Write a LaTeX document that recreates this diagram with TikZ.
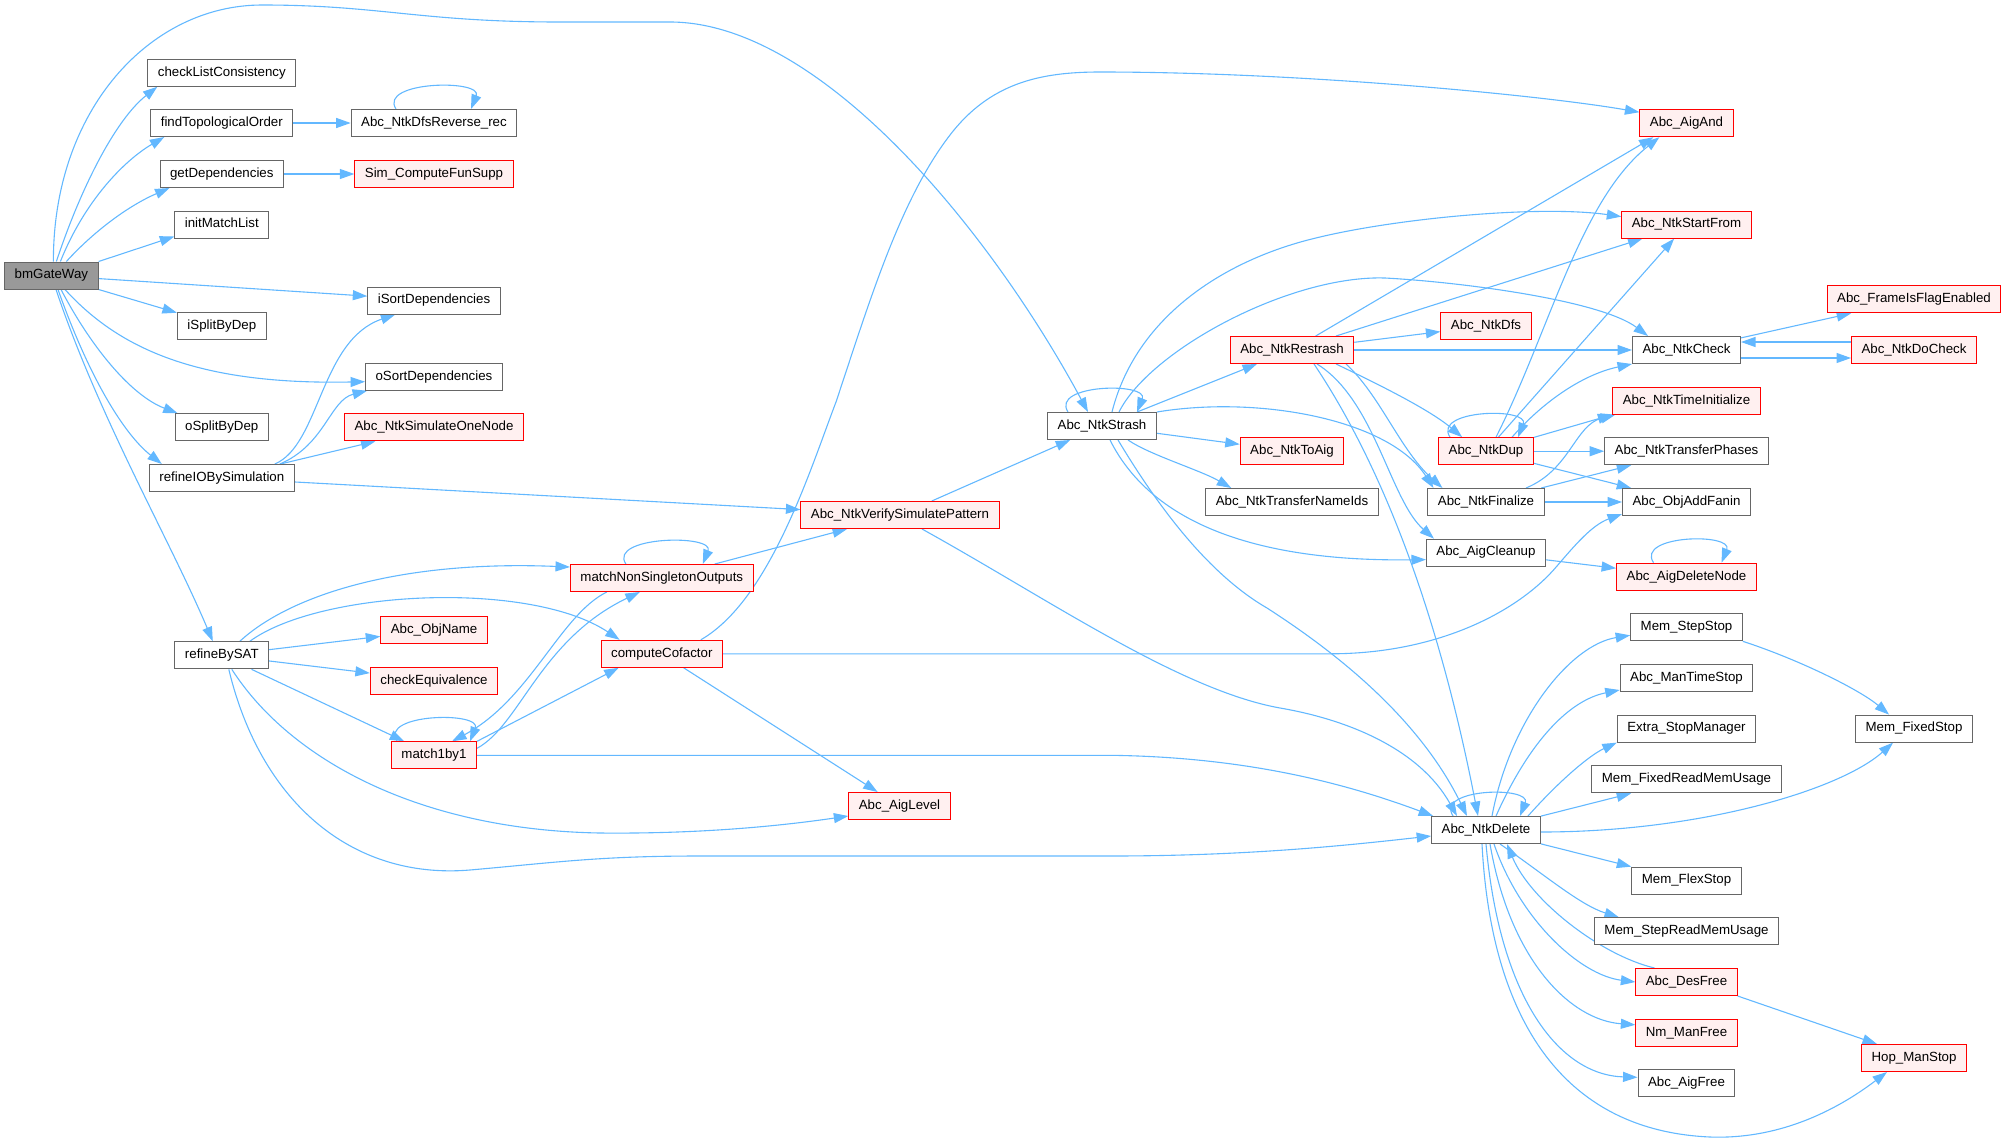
\documentclass[tikz,border=0pt]{standalone}
\usepackage{fontspec}
\setmainfont{Liberation Sans}
\usetikzlibrary{arrows.meta, backgrounds}

\definecolor{edgeblue}{HTML}{63B8FF}
\definecolor{boxgray}{HTML}{666666}
\definecolor{rootfill}{HTML}{999999}
\definecolor{redfill}{HTML}{FFF0F0}

\begin{document}
\begin{tikzpicture}[
    x=1pt, y=-1pt,
    % Cajas de funciones: borde gris, fondo blanco
    fnode/.style={
        rectangle,
        draw=boxgray,
        fill=white,
        line width=1pt,
        minimum height=27pt,
        inner xsep=10pt,
        inner ysep=0pt,
        text height=9.6pt,
        text depth=2.9pt,
        font=\fontsize{13.3}{16}\selectfont
    },
    rnode/.style={fnode, draw=red, fill=redfill},
    rootnode/.style={fnode, fill=rootfill},
    arr/.style={-{Triangle[length=14.5pt,width=10pt]}, draw=edgeblue, line width=1.1pt}
]
    \useasboundingbox (0,0) rectangle (2005,1141);

    % --- ENTRADA ---
    \node[rootnode] (root) at (51.4,275.5) {bmGateWay};

    % --- PRIMER NIVEL ---
    \node[fnode] (chk) at (221.8,72.7) {checkListConsistency};
    \node[fnode] (topo) at (221.8,123) {findTopologicalOrder};
    \node[fnode] (deps) at (221.8,174) {getDependencies};
    \node[fnode] (init) at (221.8,224.5) {initMatchList};
    \node[fnode] (isplit) at (221.8,326) {iSplitByDep};
    \node[fnode] (osplit) at (221.8,427.3) {oSplitByDep};
    \node[fnode] (refsim) at (221.8,478) {refineIOBySimulation};
    \node[fnode] (refsat) at (221.8,655.3) {refineBySAT};

    % --- SEGUNDO NIVEL ---
    \node[fnode] (dfsrev) at (434,123) {Abc\_NtkDfsReverse\_rec};
    \node[rnode] (funsupp) at (434,174) {Sim\_ComputeFunSupp};
    \node[fnode] (isort) at (434,300.5) {iSortDependencies};
    \node[fnode] (osort) at (434,376.7) {oSortDependencies};
    \node[rnode] (simnode) at (434,427.3) {Abc\_NtkSimulateOneNode};
    \node[rnode] (objname) at (434,630) {Abc\_ObjName};
    \node[rnode] (equiv) at (434,680.7) {checkEquivalence};
    \node[rnode] (m1b1) at (434,755.3) {match1by1};

    \node[rnode] (mnso) at (661.8,578) {matchNonSingletonOutputs};
    \node[rnode] (cofac) at (661.8,653.8) {computeCofactor};
    \node[rnode] (verify) at (900,515) {Abc\_NtkVerifySimulatePattern};
    \node[rnode] (aiglevel) at (899.5,806) {Abc\_AigLevel};

    % --- STRASH Y RESTRASH ---
    \node[fnode] (strash) at (1102,426) {Abc\_NtkStrash};
    \node[rnode] (restrash) at (1292,350) {Abc\_NtkRestrash};
    \node[rnode] (toaig) at (1292,451.2) {Abc\_NtkToAig};
    \node[fnode] (nameids) at (1292,502) {Abc\_NtkTransferNameIds};

    \node[rnode] (dfs) at (1486,326) {Abc\_NtkDfs};
    \node[rnode] (dup) at (1486,451.2) {Abc\_NtkDup};
    \node[fnode] (final) at (1486,502) {Abc\_NtkFinalize};
    \node[fnode] (cleanup) at (1486,552.6) {Abc\_AigCleanup};
    \node[fnode] (ntkdel) at (1486,830) {Abc\_NtkDelete};

    % --- HOJAS ---
    \node[rnode] (aigand) at (1686.5,123.2) {Abc\_AigAnd};
    \node[rnode] (startfrom) at (1686.5,224.6) {Abc\_NtkStartFrom};
    \node[fnode] (check) at (1686.5,350) {Abc\_NtkCheck};
    \node[rnode] (timeinit) at (1686.5,400.7) {Abc\_NtkTimeInitialize};
    \node[fnode] (phases) at (1686.5,451.2) {Abc\_NtkTransferPhases};
    \node[fnode] (fanin) at (1686.5,502) {Abc\_ObjAddFanin};
    \node[rnode] (delnode) at (1686.5,576.7) {Abc\_AigDeleteNode};
    \node[fnode] (stepstop) at (1686.5,627.3) {Mem\_StepStop};
    \node[fnode] (timestop) at (1686.5,678) {Abc\_ManTimeStop};
    \node[fnode] (extra) at (1686.5,728.6) {Extra\_StopManager};
    \node[fnode] (fixedusage) at (1686.5,779.3) {Mem\_FixedReadMemUsage};
    \node[fnode] (flexstop) at (1686.5,880.5) {Mem\_FlexStop};
    \node[fnode] (stepusage) at (1686.5,931.3) {Mem\_StepReadMemUsage};
    \node[rnode] (desfree) at (1686.5,982) {Abc\_DesFree};
    \node[rnode] (nmfree) at (1686.5,1032.8) {Nm\_ManFree};
    \node[fnode] (aigfree) at (1686.5,1083.3) {Abc\_AigFree};

    \node[rnode] (framefl) at (1914,299.3) {Abc\_FrameIsFlagEnabled};
    \node[rnode] (docheck) at (1914,350) {Abc\_NtkDoCheck};
    \node[fnode] (fixedstop) at (1914,728.6) {Mem\_FixedStop};
    \node[rnode] (hopstop) at (1914,1058) {Hop\_ManStop};

    % --- CONEXIONES (debajo de las cajas) ---
    \begin{scope}[on background layer]
    % bmGateWay
    \draw[arr] ([xshift=2pt]root.north) .. controls (53,110) and (150,5) .. (262,5) .. controls (380,5) and (420,22) .. (560,22) -- (670,22) .. controls (820,22) and (990,230) .. ([xshift=-14pt]strash.north);
    \draw[arr] ([xshift=5pt]root.north) .. controls (80,190) and (115,120) .. ([xshift=10pt]chk.south west);
    \draw[arr] ([xshift=9pt]root.north) .. controls (85,200) and (125,160) .. ([xshift=14pt]topo.south west);
    \draw[arr] ([xshift=15pt]root.north) .. controls (95,230) and (130,205) .. ([xshift=10pt]deps.south west);
    \draw[arr] (root.north east) -- ([yshift=2pt]init.south west);
    \draw[arr] (root) -- (isort);
    \draw[arr] (root) -- (isplit);
    \draw[arr] ([xshift=13.6pt]root.south) .. controls (120,350) and (200,385) .. ([yshift=-5pt]osort.west);
    \draw[arr] ([xshift=9.6pt]root.south) .. controls (90,345) and (130,395) .. ([xshift=3pt]osplit.north west);
    \draw[arr] ([xshift=6.6pt]root.south) .. controls (90,380) and (125,435) .. ([xshift=13pt]refsim.north west);
    \draw[arr] ([xshift=4.6pt]root.south) .. controls (100,420) and (170,540) .. ([xshift=-9pt]refsat.north);

    \draw[arr] (topo) -- (dfsrev);
    \draw[arr] ([xshift=-38pt]dfsrev.north) .. controls +(-18,-28) and +(12,-30) .. ([xshift=37pt]dfsrev.north);
    \draw[arr] (deps) -- (funsupp);

    % refineIOBySimulation
    \draw[arr] ([xshift=53pt]refsim.north) .. controls (320,445) and (320,340) .. ([xshift=28pt]isort.south west);
    \draw[arr] ([xshift=58pt]refsim.north) .. controls (325,445) and (330,400) .. ([xshift=2pt]osort.south west);
    \draw[arr] (refsim) -- (simnode);
    \draw[arr] (refsim) -- (verify);

    % refineBySAT
    \draw[arr] ([xshift=18pt]refsat.north) .. controls (290,595) and (400,560) .. ([yshift=-3pt]mnso.north west);
    \draw[arr] ([xshift=28pt]refsat.north) .. controls (320,590) and (530,580) .. ([xshift=19pt]cofac.north west);
    \draw[arr] (refsat) -- (objname);
    \draw[arr] (refsat) -- (equiv);
    \draw[arr] (refsat) -- (m1b1);
    \draw[arr] ([xshift=10pt]refsat.south) .. controls (290,760) and (420,830) .. (600,833) .. controls (700,834) and (780,826) .. ([yshift=-10pt]aiglevel.west);
    \draw[arr] ([xshift=7pt]refsat.south) .. controls (260,800) and (350,880) .. (470,870) .. controls (560,862) and (600,856) .. (700,856) -- (1110,856) .. controls (1250,856) and (1350,845) .. ([yshift=-6pt]ntkdel.west);

    % match1by1 y matchNonSingletonOutputs
    \draw[arr] ([xshift=-37pt]m1b1.north) .. controls +(-18,-28) and +(12,-30) .. ([xshift=36pt]m1b1.north);
    \draw[arr] ([yshift=7pt]m1b1.east) .. controls (520,725) and (540,640) .. ([xshift=-22pt]mnso.south);
    \draw[arr] (m1b1.north east) -- ([xshift=18pt]cofac.south west);
    \draw[arr] (m1b1) -- (1110,755.3) .. controls (1250,757) and (1350,785) .. ([xshift=2pt]ntkdel.north west);
    \draw[arr] ([xshift=-36pt]mnso.north) .. controls +(-18,-28) and +(12,-30) .. ([xshift=41pt]mnso.north);
    \draw[arr] (mnso) -- (verify);
    \draw[arr] ([xshift=-55pt]mnso.south) .. controls (560,615) and (530,700) .. ([xshift=18pt]m1b1.north);

    % computeCofactor
    \draw[arr] ([xshift=39pt]cofac.north) .. controls (770,600) and (810,470) .. (836,402) .. controls (870,300) and (900,200) .. (950,135) .. controls (990,83) and (1040,72) .. (1100,72) .. controls (1300,72) and (1540,95) .. ([yshift=-3pt]aigand.north west);
    \draw[arr] (cofac) -- (1330,653.8) .. controls (1440,653.8) and (1520,610) .. (1557,566) .. controls (1575,545) and (1592,525) .. ([yshift=2pt]fanin.south west);
    \draw[arr] (cofac) -- (aiglevel);

    % Abc_NtkVerifySimulatePattern
    \draw[arr] (verify) -- (strash);
    \draw[arr] ([xshift=22pt]verify.south) .. controls (1050,600) and (1180,690) .. (1280,708) .. controls (1350,720) and (1420,750) .. ([xshift=-29pt]ntkdel.north);

    % Abc_NtkStrash
    \draw[arr] ([xshift=-34pt]strash.north) .. controls +(-18,-28) and +(12,-30) .. ([xshift=35pt]strash.north);
    \draw[arr] (strash) -- (restrash);
    \draw[arr] (strash) -- (toaig);
    \draw[arr] ([xshift=26pt]strash.south) .. controls (1150,455) and (1200,470) .. ([xshift=26pt]nameids.north west);
    \draw[arr] ([xshift=8pt]strash.south) .. controls (1150,520) and (1250,562) .. ([yshift=-7pt]cleanup.west);
    \draw[arr] (strash.north east) .. controls (1260,395) and (1390,420) .. ([xshift=6pt]final.north west);
    \draw[arr] ([xshift=10pt]strash.north) .. controls (1135,320) and (1220,260) .. (1320,237) .. controls (1400,218) and (1540,205) .. ([yshift=8pt]startfrom.west);
    \draw[arr] ([xshift=17pt]strash.north) .. controls (1150,350) and (1290,275) .. (1385,278) .. controls (1460,282) and (1600,300) .. ([xshift=16pt]check.north west);
    \draw[arr] ([xshift=16pt]strash.south) .. controls (1160,510) and (1210,575) .. (1267,608) .. controls (1340,655) and (1420,720) .. ([xshift=-19pt]ntkdel.north);

    % Abc_NtkRestrash
    \draw[arr] (restrash) -- ([xshift=14pt]aigand.south west);
    \draw[arr] (restrash) -- (startfrom);
    \draw[arr] (restrash) -- (dfs);
    \draw[arr] (restrash) -- (check);
    \draw[arr] ([xshift=44pt]restrash.south) .. controls (1380,385) and (1430,410) .. ([xshift=24pt]dup.north west);
    \draw[arr] ([xshift=54pt]restrash.south) .. controls (1380,395) and (1400,450) .. ([xshift=15pt]final.north west);
    \draw[arr] ([xshift=25pt]restrash.south) .. controls (1375,400) and (1390,500) .. ([xshift=8pt]cleanup.north west);
    \draw[arr] ([xshift=22pt]restrash.south) .. controls (1385,470) and (1440,620) .. ([xshift=-8pt]ntkdel.north);

    % Abc_NtkCheck
    \draw[arr] (check) -- (framefl);
    \draw[arr] ([yshift=-8pt]check.east) -- ([yshift=-8pt]docheck.west);
    \draw[arr] ([yshift=8pt]docheck.west) -- ([yshift=8pt]check.east);

    % Abc_NtkDup y Abc_NtkFinalize
    \draw[arr] ([xshift=-36pt]dup.north) .. controls +(-18,-28) and +(12,-30) .. ([xshift=32pt]dup.north);
    \draw[arr] ([xshift=10pt]dup.north) .. controls (1550,330) and (1580,200) .. ([xshift=20pt]aigand.south west);
    \draw[arr] (dup) -- (startfrom);
    \draw[arr] ([xshift=26pt]dup.north) .. controls (1540,405) and (1580,375) .. (check.south west);
    \draw[arr] (dup) -- (timeinit.south west);
    \draw[arr] (dup) -- (phases);
    \draw[arr] (dup) -- (fanin);
    \draw[arr] ([xshift=40pt]final.north) .. controls (1570,470) and (1575,425) .. ([xshift=3pt]timeinit.south west);
    \draw[arr] (final) -- (phases);
    \draw[arr] (final) -- (fanin);
    \draw[arr] (cleanup) -- (delnode);
    \draw[arr] ([xshift=-33pt]delnode.north) .. controls +(-18,-28) and +(12,-30) .. ([xshift=35pt]delnode.north);

    % Abc_NtkDelete
    \draw[arr] ([xshift=-33pt]ntkdel.north) .. controls +(-18,-28) and +(12,-30) .. ([xshift=34pt]ntkdel.north);
    \draw[arr] ([xshift=6pt]ntkdel.north) .. controls (1510,720) and (1570,645) .. ([yshift=-8pt]stepstop.west);
    \draw[arr] ([xshift=10pt]ntkdel.north) .. controls (1530,740) and (1570,700) .. ([yshift=2pt]timestop.south west);
    \draw[arr] ([xshift=42pt]ntkdel.north) .. controls (1560,780) and (1590,755) .. (extra.south west);
    \draw[arr] (ntkdel) -- (fixedusage);
    \draw[arr] ([yshift=-2pt]ntkdel.east) .. controls (1700,832) and (1840,790) .. ([xshift=38pt]fixedstop.south west);
    \draw[arr] (ntkdel) -- (flexstop);
    \draw[arr] ([xshift=14pt]ntkdel.south) .. controls (1545,875) and (1580,905) .. ([xshift=25pt]stepusage.north west);
    \draw[arr] ([xshift=8pt]ntkdel.south) .. controls (1520,920) and (1580,975) .. (desfree.west);
    \draw[arr] ([xshift=4pt]ntkdel.south) .. controls (1510,960) and (1570,1020) .. ([yshift=8pt]nmfree.west);
    \draw[arr] (ntkdel.south) .. controls (1500,1000) and (1560,1075) .. ([yshift=6pt]aigfree.west);
    \draw[arr] ([xshift=-4pt]ntkdel.south) .. controls (1490,1000) and (1550,1130) .. (1710,1137) .. controls (1790,1140) and (1850,1100) .. ([xshift=26pt]hopstop.south west);
    \draw[arr] ([xshift=-32pt]desfree.north) .. controls (1600,955) and (1530,900) .. ([xshift=21pt]ntkdel.south);
    \draw[arr] (desfree.south east) -- ([xshift=16pt]hopstop.north west);
    \draw[arr] (stepstop.south east) .. controls (1800,660) and (1860,690) .. ([xshift=34pt]fixedstop.north west);
    \end{scope}

\end{tikzpicture}
\end{document}
